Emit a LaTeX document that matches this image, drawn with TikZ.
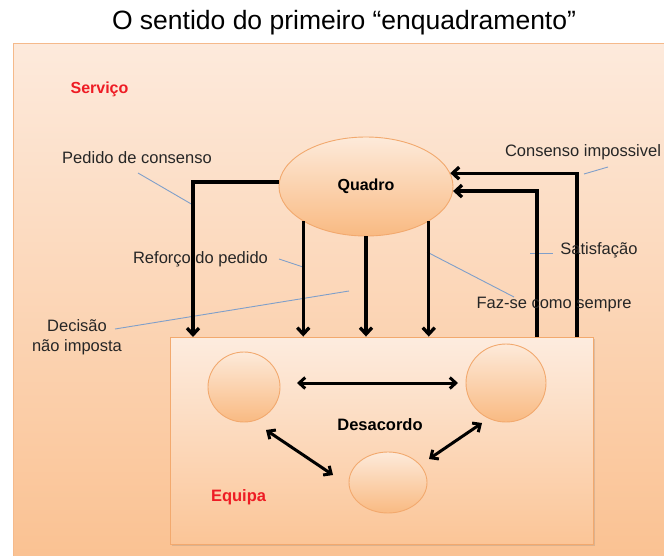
\documentclass[tikz,border=0pt]{standalone}
\usepackage{fontspec}
\setmainfont{Liberation Sans}
\usetikzlibrary{arrows.meta,shadows,shapes.geometric}
\definecolor{bgtop}{HTML}{FDEADC}
\definecolor{bgbot}{HTML}{FAC08F}
\definecolor{bxtop}{HTML}{FDECDF}
\definecolor{bxbot}{HTML}{FBC597}
\definecolor{eltop}{HTML}{FDEADA}
\definecolor{elbot}{HTML}{F9BA82}
\definecolor{orborder}{HTML}{F2A96E}
\definecolor{leader}{HTML}{7F9FCA}
\definecolor{labred}{HTML}{EE1C24}
\begin{document}
\begin{tikzpicture}[x=1pt,y=-1pt,
  bubble/.style={ellipse, draw=orborder, line width=0.9pt, top color=eltop, bottom color=elbot, inner sep=0pt},
  arr/.style={line width=3.3pt, -{Straight Barb[length=6.5pt,width=12pt]}},
  dbl/.style={line width=3pt, {Straight Barb[length=6pt,width=11pt]}-{Straight Barb[length=6pt,width=11pt]}},
  lead/.style={draw=leader, line width=0.9pt},
  lab/.style={font=\fontsize{16.5}{20}\selectfont, text=black!85, inner sep=0pt},
  boldlab/.style={font=\fontsize{16.5}{20}\selectfont\bfseries, inner sep=0pt},
]
\useasboundingbox (0,0) rectangle (664,555);
\clip (0,0) rectangle (664,555);
\fill[white] (0,0) rectangle (664,555);

% title
\node[font=\fontsize{26.5}{30}\selectfont, inner sep=0pt] (title) at (344,23) {O sentido do primeiro “enquadramento”};

% outer service area
\shade[top color=bgtop, bottom color=bgbot, draw=orborder!80, line width=1pt] (13,43) rectangle (690,580);
\node[boldlab, text=labred, font=\fontsize{16}{19}\selectfont\bfseries] (servico) at (99.5,89) {Serviço};

% team box
\node[draw=orborder, line width=0.9pt, top color=bxtop, bottom color=bxbot,
      minimum width=423pt, minimum height=207pt, inner sep=0pt,
      drop shadow={opacity=0.25, shadow xshift=1.5pt, shadow yshift=-2pt}] (E) at (381.5,440.5) {};

% Quadro
\node[bubble, minimum width=174pt, minimum height=99pt, boldlab, font=\fontsize{16}{19}\selectfont\bfseries] (Q) at (366,186.5) {Quadro};

% small bubbles
\node[bubble, minimum width=72pt, minimum height=70pt] (L) at (244,387) {};
\node[bubble, minimum width=80pt, minimum height=78pt] (R) at (506,383) {};
\node[bubble, minimum width=78pt, minimum height=61pt] (B) at (388,482.5) {};

\node[boldlab] (desacordo) at (380,425) {Desacordo};
\node[boldlab, text=labred] (equipa) at (238.5,497) {Equipa};

% coordinates for arrow ends
\coordinate (pl) at (193,337);
\coordinate (r1) at (537,337);
\coordinate (r2) at (577,337);
\coordinate (h1) at (297,383);
\coordinate (h2) at (458,383);
\coordinate (d1) at (266,430);
\coordinate (d2) at (333,475);
\coordinate (d3) at (482,423);
\coordinate (d4) at (429,459);

% leader lines (drawn under arrows)
\coordinate (pc1) at (138,173); \coordinate (pc2) at (193,205);
\coordinate (rf1) at (279,259); \coordinate (rf2) at (303,267);
\coordinate (dc1) at (115,329); \coordinate (dc2) at (349,291);
\coordinate (fz1) at (427,252); \coordinate (fz2) at (514,297);
\coordinate (ci1) at (584,174); \coordinate (ci2) at (608,167);
\coordinate (st1) at (530,253); \coordinate (st2) at (553,253);
\draw[lead] (pc1) -- (pc2);
\draw[lead] (rf1) -- (rf2);
\draw[lead] (dc1) -- (dc2);
\draw[lead] (fz1) -- (fz2);
\draw[lead] (ci1) -- (ci2);
\draw[lead] (st1) -- (st2);

% arrows Quadro -> Equipa
\draw[arr] (Q.177) -| (pl);
\draw[arr] (Q.209) -- (Q.209 |- E.north);
\draw[arr] (Q.south) -- (Q.south |- E.north);
\draw[arr] (Q.331) -- (Q.331 |- E.north);

% arrows Equipa -> Quadro
\draw[arr] (r1) |- (Q.357);
\draw[arr] (r2) |- (Q.9);

% double arrows
\draw[dbl] (h1) -- (h2);
\draw[dbl] (d1) -- (d2);
\draw[dbl] (d3) -- (d4);

% labels
\node[lab] (lpedido) at (137,158) {Pedido de consenso};
\node[lab] (lconsenso) at (583,152) {Consenso impossivel};
\node[lab] (lsatisf) at (599,250) {Satisfação};
\node[lab] (lreforco) at (200.5,259) {Reforço do pedido};
\node[lab, align=center] (ldecisao) at (77,337) {Decisão\\não imposta};
\node[lab] (lfaz) at (554,305) {Faz-se como sempre};
\end{tikzpicture}
\end{document}
